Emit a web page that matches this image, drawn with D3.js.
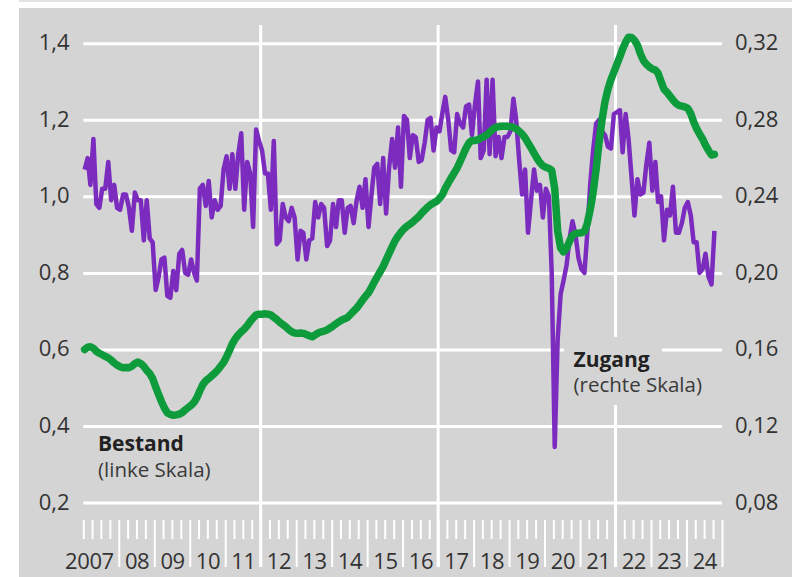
<!DOCTYPE html>
<html>
<head>
<meta charset="utf-8">
<script src="https://cdn.jsdelivr.net/npm/d3@7"></script>
<style>
  body { margin: 0; background: #fff; }
  svg { display: block; font-family: "Open Sans", sans-serif; }
</style>
</head>
<body>
<svg width="792" height="577"></svg>
<script>
// Bestand (linke Skala), monthly values Jan 2007 - Oct 2024
const bestand = [
  0.600, 0.606, 0.607, 0.603, 0.595, 0.590, 0.586, 0.582, 0.578, 0.572, 0.565, 0.559, // 2007
  0.555, 0.552, 0.553, 0.552, 0.556, 0.563, 0.567, 0.563, 0.556, 0.545, 0.537, 0.524, // 2008
  0.502, 0.482, 0.464, 0.447, 0.434, 0.430, 0.428, 0.429, 0.431, 0.435, 0.442, 0.448, // 2009
  0.454, 0.462, 0.474, 0.492, 0.508, 0.518, 0.524, 0.531, 0.538, 0.546, 0.556, 0.566, // 2010
  0.581, 0.598, 0.615, 0.628, 0.638, 0.646, 0.653, 0.662, 0.673, 0.682, 0.690, 0.692, // 2011
  0.692, 0.693, 0.692, 0.690, 0.684, 0.678, 0.671, 0.665, 0.659, 0.652, 0.646, 0.643, // 2012
  0.642, 0.643, 0.642, 0.639, 0.636, 0.633, 0.638, 0.643, 0.646, 0.648, 0.651, 0.656, // 2013
  0.661, 0.667, 0.672, 0.677, 0.680, 0.684, 0.692, 0.700, 0.708, 0.718, 0.729, 0.739, // 2014
  0.748, 0.762, 0.776, 0.790, 0.803, 0.817, 0.834, 0.851, 0.868, 0.884, 0.896, 0.906, // 2015
  0.915, 0.922, 0.927, 0.933, 0.940, 0.947, 0.956, 0.964, 0.972, 0.978, 0.983, 0.987, // 2016
  0.995, 1.005, 1.021, 1.035, 1.048, 1.061, 1.074, 1.091, 1.109, 1.126, 1.140, 1.146, // 2017
  1.146, 1.148, 1.152, 1.156, 1.160, 1.168, 1.175, 1.180, 1.182, 1.183, 1.183, 1.183, // 2018
  1.182, 1.180, 1.177, 1.170, 1.163, 1.153, 1.140, 1.127, 1.113, 1.100, 1.088, 1.080, // 2019
  1.076, 1.073, 1.068, 1.020, 0.910, 0.865, 0.855, 0.865, 0.883, 0.898, 0.903, 0.904, // 2020
  0.905, 0.908, 0.928, 0.965, 1.010, 1.070, 1.140, 1.200, 1.248, 1.280, 1.305, 1.325, // 2021
  1.345, 1.365, 1.385, 1.403, 1.416, 1.415, 1.408, 1.395, 1.372, 1.355, 1.345, 1.338, // 2022
  1.333, 1.330, 1.322, 1.300, 1.280, 1.272, 1.262, 1.252, 1.243, 1.238, 1.236, 1.234, // 2023
  1.230, 1.216, 1.195, 1.177, 1.163, 1.150, 1.134, 1.120, 1.108, 1.110                // 2024
]

// Zugang (rechte Skala), monthly values Jan 2007 - Oct 2024
const zugang = [
  0.254, 0.260, 0.246, 0.270, 0.236, 0.234, 0.244, 0.244, 0.258, 0.238, 0.246, 0.234, // 2007
  0.233, 0.241, 0.241, 0.234, 0.222, 0.242, 0.238, 0.238, 0.217, 0.238, 0.218, 0.216, // 2008
  0.191, 0.198, 0.207, 0.208, 0.188, 0.187, 0.201, 0.191, 0.210, 0.212, 0.200, 0.199, // 2009
  0.207, 0.200, 0.196, 0.244, 0.246, 0.235, 0.248, 0.229, 0.238, 0.233, 0.235, 0.254, // 2010
  0.261, 0.244, 0.262, 0.244, 0.262, 0.273, 0.233, 0.258, 0.252, 0.224, 0.275, 0.269, // 2011
  0.264, 0.252, 0.252, 0.233, 0.269, 0.215, 0.217, 0.236, 0.229, 0.227, 0.234, 0.229, // 2012
  0.207, 0.222, 0.221, 0.207, 0.217, 0.218, 0.237, 0.229, 0.236, 0.234, 0.214, 0.217, // 2013
  0.236, 0.224, 0.238, 0.238, 0.221, 0.234, 0.235, 0.226, 0.238, 0.245, 0.234, 0.249, // 2014
  0.224, 0.241, 0.255, 0.257, 0.236, 0.260, 0.231, 0.255, 0.270, 0.255, 0.276, 0.245, // 2015
  0.282, 0.280, 0.260, 0.272, 0.271, 0.258, 0.259, 0.268, 0.280, 0.281, 0.264, 0.276, // 2016
  0.274, 0.284, 0.292, 0.280, 0.264, 0.263, 0.283, 0.278, 0.276, 0.287, 0.288, 0.272, // 2017
  0.288, 0.300, 0.260, 0.264, 0.301, 0.262, 0.301, 0.261, 0.271, 0.260, 0.271, 0.271, // 2018
  0.274, 0.291, 0.280, 0.259, 0.241, 0.254, 0.221, 0.238, 0.254, 0.243, 0.246, 0.229, // 2019
  0.244, 0.240, 0.200, 0.109, 0.165, 0.189, 0.196, 0.204, 0.218, 0.227, 0.220, 0.208, // 2020
  0.202, 0.200, 0.220, 0.246, 0.264, 0.278, 0.280, 0.274, 0.272, 0.266, 0.265, 0.283, // 2021
  0.284, 0.285, 0.263, 0.283, 0.270, 0.250, 0.230, 0.249, 0.241, 0.242, 0.257, 0.268, // 2022
  0.243, 0.258, 0.237, 0.240, 0.217, 0.233, 0.230, 0.245, 0.221, 0.221, 0.226, 0.234, // 2023
  0.237, 0.230, 0.216, 0.216, 0.200, 0.202, 0.210, 0.198, 0.194, 0.222                // 2024
]

const leftTicks = [0.2, 0.4, 0.6, 0.8, 1.0, 1.2, 1.4]
const rightTicks = [0.08, 0.12, 0.16, 0.20, 0.24, 0.28, 0.32]
const years = d3.range(2007, 2025)
const gridYears = [2012, 2017, 2022]

const W = 792
const H = 577
const plot = { left: 83.3, right: 722, top: 43.3, bottom: 502.5 }

const svg = d3.select('svg')

// background panel
svg.append('rect').attr('x', 19).attr('y', 0).attr('width', W - 19).attr('height', 2).attr('fill', '#e3e3e3')
svg.append('rect').attr('x', 19).attr('y', 8).attr('width', W - 19).attr('height', H - 8).attr('fill', '#d4d4d4')

// scales
const month = i => new Date(2007, i, 15)
const x = d3.scaleTime()
  .domain([new Date(2007, 0, 1), new Date(2025, 0, 1)])
  .range([plot.left, plot.right])
const yL = d3.scaleLinear().domain([0.2, 1.4]).range([plot.bottom, plot.top])
const yR = d3.scaleLinear().domain([0.08, 0.32]).range([plot.bottom, plot.top])

const fmt1 = v => d3.format('.1f')(v).replace('.', ',')
const fmt2 = v => d3.format('.2f')(v).replace('.', ',')

// horizontal grid
const grid = svg.append('g')
  .attr('transform', `translate(${plot.left},0)`)
  .call(d3.axisLeft(yL).tickValues(leftTicks).tickSize(-(plot.right - plot.left)).tickFormat(''))
grid.select('.domain').remove()
grid.selectAll('.tick line').attr('stroke', '#fff').attr('stroke-width', 3)

// vertical grid every five years
svg.append('g')
  .selectAll('line')
  .data(gridYears)
  .join('line')
  .attr('x1', d => x(new Date(d, 0, 1)))
  .attr('x2', d => x(new Date(d, 0, 1)))
  .attr('y1', 25)
  .attr('y2', 567)
  .attr('stroke', '#fff')
  .attr('stroke-width', 3)

// quarter ticks, long ones at year starts
const quarters = d3.timeMonth.every(3).range(new Date(2007, 0, 1), new Date(2025, 0, 2))
const xAxis = svg.append('g')
  .attr('transform', 'translate(0,520)')
  .call(d3.axisBottom(x).tickValues(quarters).tickSize(19).tickFormat(''))
xAxis.select('.domain').remove()
xAxis.selectAll('.tick line')
  .attr('stroke', '#fff')
  .attr('stroke-width', 2)
  .attr('y2', d => (d.getMonth() === 0 && d.getFullYear() > 2007) ? 47 : 19)

// year labels
svg.append('g')
  .attr('font-size', 22)
  .attr('fill', '#333')
  .attr('text-anchor', 'end')
  .selectAll('text')
  .data(years)
  .join('text')
  .attr('x', d => x(new Date(d + 1, 0, 1)) - 5)
  .attr('y', 569)
  .attr('letter-spacing', -0.4)
  .text(d => d === 2007 ? '2007' : String(d).slice(2))

// left axis labels
svg.append('g')
  .attr('font-size', 22)
  .attr('fill', '#333')
  .attr('text-anchor', 'end')
  .selectAll('text')
  .data(leftTicks)
  .join('text')
  .attr('x', 69.5)
  .attr('y', d => yL(d) + 7)
  .text(fmt1)

// right axis labels
svg.append('g')
  .attr('font-size', 22)
  .attr('fill', '#333')
  .selectAll('text')
  .data(rightTicks)
  .join('text')
  .attr('x', 735)
  .attr('y', d => yR(d) + 7)
  .text(fmt2)

// knock-out box behind the Zugang label
svg.append('rect').attr('x', 564).attr('y', 337).attr('width', 98).attr('height', 35).attr('fill', '#d4d4d4')
svg.append('rect').attr('x', 564).attr('y', 372).attr('width', 144).attr('height', 33).attr('fill', '#d4d4d4')

// lines
const zugangLine = d3.line().x((d, i) => x(month(i))).y(d => yR(d))
const bestandLine = d3.line().x((d, i) => x(month(i))).y(d => yL(d))

svg.append('path')
  .datum(zugang)
  .attr('d', zugangLine)
  .attr('fill', 'none')
  .attr('stroke', '#7b2cbf')
  .attr('stroke-width', 4.5)
  .attr('stroke-linejoin', 'round')

svg.append('path')
  .datum(bestand)
  .attr('d', bestandLine)
  .attr('fill', 'none')
  .attr('stroke', '#0e9b3c')
  .attr('stroke-width', 7.5)
  .attr('stroke-linejoin', 'round')
  .attr('stroke-linecap', 'round')

// series labels
const labels = svg.append('g').attr('fill', '#222')
labels.append('text').attr('x', 98).attr('y', 451).attr('font-size', 21).attr('font-weight', 'bold').text('Bestand')
labels.append('text').attr('x', 98).attr('y', 477).attr('font-size', 20.5).attr('fill', '#3a3a3a').text('(linke Skala)')
labels.append('text').attr('x', 573.5).attr('y', 366.5).attr('font-size', 21).attr('font-weight', 'bold').text('Zugang')
labels.append('text').attr('x', 573.5).attr('y', 392).attr('font-size', 20.5).attr('fill', '#3a3a3a').text('(rechte Skala)')
</script>
</body>
</html>
